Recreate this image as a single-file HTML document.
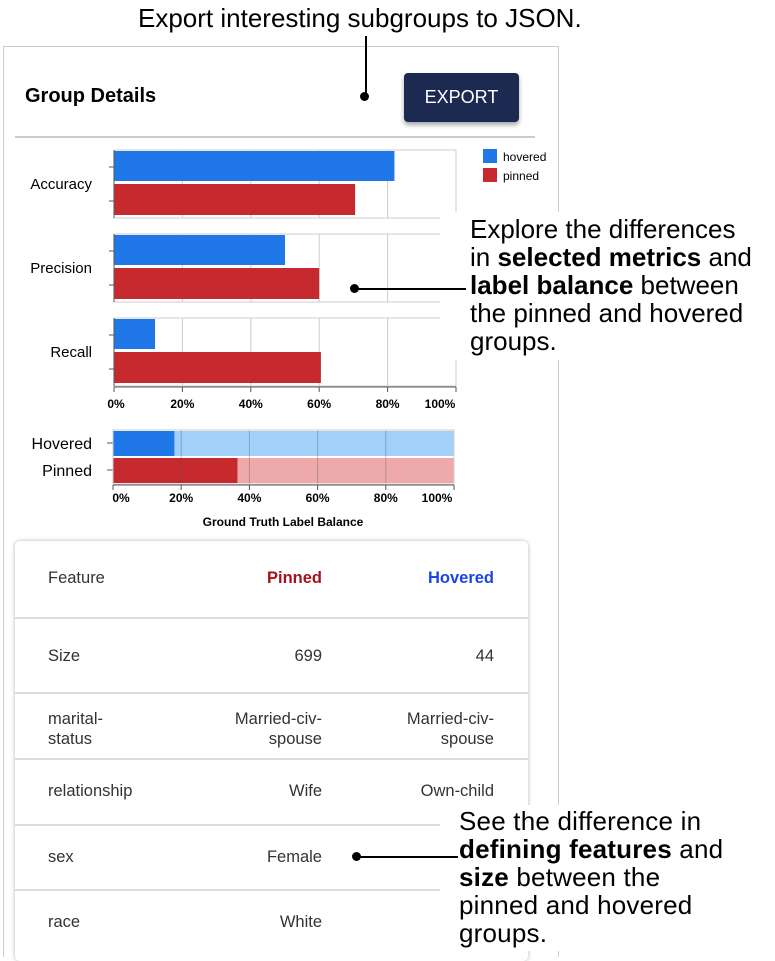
<!DOCTYPE html>
<html><head><meta charset="utf-8"><style>
body{margin:0;width:775px;height:951px;background:#fff;font-family:"Liberation Sans",sans-serif;position:relative;overflow:hidden}
.abs{position:absolute}
.ann{font-size:26px;line-height:28px;color:#000;letter-spacing:0px;white-space:nowrap}
.cell{position:absolute;font-size:16.5px;color:#333}
.r{text-align:right}
.div{position:absolute;left:15px;width:513px;height:2px;background:#ddd}
</style></head><body>
<div class="abs" style="left:3px;top:46px;width:554px;height:910px;border:1px solid #ccc;border-bottom:none"></div>
<div class="abs" style="left:25px;top:85px;font-size:20px;font-weight:bold">Group Details</div>
<div class="abs" style="left:404px;top:73px;width:115px;height:49px;background:#1c2a52;border-radius:4px;box-shadow:0 3px 5px rgba(0,0,0,.35);color:#fff;font-size:18px;line-height:49px;text-align:center">EXPORT</div>
<div class="abs" style="left:15px;top:136px;width:520px;height:2px;background:#ccc"></div>

<svg class="abs" style="left:0;top:140px" width="560" height="395" id="chart"></svg>

<div class="abs" style="left:15px;top:541px;width:513px;height:420px;border-radius:5px;box-shadow:0 0 4px rgba(0,0,0,.3);background:#fff"></div>
<div id="table"></div>

<div class="abs ann" style="left:138px;top:4px">Export interesting subgroups to JSON.</div>
<div class="abs" style="left:365px;top:36px;width:1.5px;height:60px;background:#000"></div>
<div class="abs" style="left:360px;top:92px;width:9px;height:9px;border-radius:50%;background:#000"></div>

<div class="abs" style="left:440px;top:212px;width:335px;height:148px;background:#fff"></div>
<div class="abs ann" style="left:470px;top:215px">Explore the differences<br>in <b>selected metrics</b> and<br><b>label balance</b> between<br>the pinned and hovered<br>groups.</div>
<div class="abs" style="left:356px;top:288px;width:110px;height:1.5px;background:#000"></div>
<div class="abs" style="left:350px;top:284px;width:9px;height:9px;border-radius:50%;background:#000"></div>

<div class="abs" style="left:440px;top:805px;width:335px;height:146px;background:#fff"></div>
<div class="abs ann" style="left:459px;top:807px;letter-spacing:0.2px">See the difference in<br><b>defining features</b> and<br><b>size</b> between the<br>pinned and hovered<br>groups.</div>
<div class="abs" style="left:358px;top:856px;width:100px;height:1.5px;background:#000"></div>
<div class="abs" style="left:352px;top:852px;width:9px;height:9px;border-radius:50%;background:#000"></div>

<script>
const metrics=["Accuracy","Precision","Recall"];
const hoveredVals=[0.82,0.50,0.12];
const pinnedVals=[0.705,0.60,0.605];
const balanceRows=["Hovered","Pinned"];
const balanceVals=[0.18,0.365];
const ticks=[0,0.2,0.4,0.6,0.8,1];
const tickLabels=["0%","20%","40%","60%","80%","100%"];
const tableRows=[["Feature","Pinned","Hovered"],["Size","699","44"],["marital-<br>status","Married-civ-<br>spouse","Married-civ-<br>spouse"],["relationship","Wife","Own-child"],["sex","Female","Female"],["race","White","White"]];

const NS="http://www.w3.org/2000/svg";
const svg=document.getElementById('chart');
function mk(t,a,p){const e=document.createElementNS(NS,t);for(const k in a)e.setAttribute(k,a[k]);(p||svg).appendChild(e);return e;}
const x0=114,x1=456;const xs=v=>x0+v*(x1-x0);
const panelTop=[10,94,178],ph=68;
metrics.forEach((m,i)=>{
  const y=panelTop[i];
  ticks.forEach(t=>{const l=mk('line',{x1:xs(t),x2:xs(t),y1:y,y2:y+ph,stroke:'#ccc','stroke-width':1});});
  const fr=mk('rect',{x:x0,y:y,width:x1-x0,height:ph,fill:'none',stroke:'#ccc'});
  
  const b1=mk('rect',{x:x0,y:y+1,width:xs(hoveredVals[i])-x0,height:30,fill:'#1f77e8'});
  
  const b2=mk('rect',{x:x0,y:y+34,width:xs(pinnedVals[i])-x0,height:31,fill:'#c62a2e'});
  
  mk('line',{x1:x0,x2:x0,y1:y,y2:y+ph,stroke:'#555'});
  mk('line',{x1:x0-5,x2:x0,y1:y+17,y2:y+17,stroke:'#555'});
  mk('line',{x1:x0-5,x2:x0,y1:y+51,y2:y+51,stroke:'#555'});
  const tx=mk('text',{x:92,y:y+39,'text-anchor':'end','font-size':15,fill:'#000'});tx.textContent=m;
  
});
mk('line',{x1:x0,x2:x1,y1:247,y2:247,stroke:'#555'});
ticks.forEach((t,i)=>{mk('line',{x1:xs(t),x2:xs(t),y1:247,y2:252,stroke:'#555'});
  const tx=mk('text',{x:xs(t)+(i==0?2:i==5?-16:0),y:268,'text-anchor':'middle','font-size':12,'font-weight':'bold',fill:'#000'});tx.textContent=tickLabels[i];
  });
[['hovered','#1f77e8',16],['pinned','#c62a2e',35]].forEach(l=>{
  const r=mk('rect',{x:483,y:l[2]-7,width:14,height:14,fill:l[1]});
  const t=mk('text',{x:503,y:l[2]+5,'font-size':12,fill:'#000'});t.textContent=l[0];});
const b0=113,b1x=454;const bs=v=>b0+v*(b1x-b0);
const bTop=[291,318],dark=['#1f77e8','#c62a2e'],light=['#a3d0f8','#eeaaaa'];
balanceRows.forEach((r,i)=>{
  const bg=mk('rect',{x:b0,y:bTop[i],width:b1x-b0,height:25,fill:light[i]});
  const fg=mk('rect',{x:b0,y:bTop[i],width:bs(balanceVals[i])-b0,height:25,fill:dark[i]});
  mk('line',{x1:b0-6,x2:b0,y1:bTop[i]+12,y2:bTop[i]+12,stroke:'#555'});
  const t=mk('text',{x:92,y:bTop[i]+18,'text-anchor':'end','font-size':16,fill:'#000'});t.textContent=r;
});
ticks.forEach(t=>{if(t>0&&t<1)mk('line',{x1:bs(t),x2:bs(t),y1:290,y2:344,stroke:'rgba(80,80,80,.35)'});});
mk('rect',{x:b0,y:290,width:b1x-b0,height:54,fill:'none',stroke:'#ccc'});
mk('line',{x1:b0,x2:b1x,y1:345,y2:345,stroke:'#555'});
ticks.forEach((t,i)=>{mk('line',{x1:bs(t),x2:bs(t),y1:345,y2:350,stroke:'#555'});
  const tx=mk('text',{x:bs(t)+(i==0?8:i==5?-17:0),y:362,'text-anchor':'middle','font-size':12,'font-weight':'bold',fill:'#000'});tx.textContent=tickLabels[i];
  });
const at=mk('text',{x:283,y:386,'text-anchor':'middle','font-size':12,'font-weight':'bold',fill:'#000'});at.textContent='Ground Truth Label Balance';


const T=document.getElementById('table');
const rowY=[578,656,718,791,857,922],divY=[617,692,758,824,889];
tableRows.forEach((row,i)=>{
  const cols=[[48,null],[null,322],[null,494]];
  row.forEach((c,j)=>{
    const d=document.createElement('div');d.className='cell'+(j?' r':'');
    
    
    d.innerHTML=c;const multi=c.includes('<br>');
    d.style.top=(rowY[i]-9)+'px';d.style.lineHeight=multi?'20px':'18px';
    if(j==0)d.style.left='48px';else d.style.right=(775-cols[j][1])+'px';
    if(i==0&&j==1){d.style.color='#a5121a';d.style.fontWeight='bold';}
    if(i==0&&j==2){d.style.color='#1a45e8';d.style.fontWeight='bold';}
    T.appendChild(d);
  });
});
divY.forEach(y=>{const d=document.createElement('div');d.className='div';d.style.top=y+'px';
  
  
  T.appendChild(d);});
</script>
</body></html>
